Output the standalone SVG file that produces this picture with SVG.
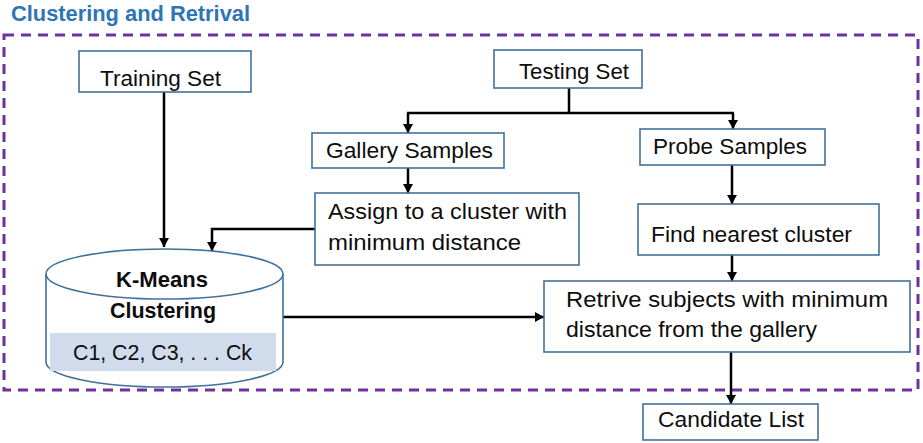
<svg xmlns="http://www.w3.org/2000/svg" width="923" height="443" viewBox="0 0 923 443">
<style>
.box{fill:#fff;stroke:#41719C;stroke-width:1.6}
.t{font-family:"Liberation Sans",Arial,sans-serif;font-size:22px;fill:#0d0d0d}
.b{font-weight:bold}
.c{fill:none;stroke:#000;stroke-width:2.5}
.a{marker-end:url(#ah)}
</style>
<defs>
<marker id="ah" markerUnits="userSpaceOnUse" markerWidth="9" markerHeight="10" viewBox="0 0 9 10" refX="9" refY="5" orient="auto">
<path d="M0,0 L9,5 L0,10 z" fill="#000"/>
</marker>
</defs>
<rect width="923" height="443" fill="#fff"/>
<text x="11" y="21" class="t b" fill="#2E75B6" style="fill:#2E75B6" textLength="239" lengthAdjust="spacingAndGlyphs">Clustering and Retrival</text>
<rect id="border" x="4" y="35" width="914" height="355" fill="none" stroke="#7030A0" stroke-width="3" stroke-dasharray="10,7"/>

<g id="connectors">
<path class="c a" d="M164,92 V247"/>
<path class="c" d="M569,88 V113 M407,113 H734"/>
<path class="c a" d="M408,113 V133"/>
<path class="c a" d="M733,113 V129"/>
<path class="c a" d="M408,168 V193"/>
<path class="c a" d="M315,229 H212 V251"/>
<path class="c a" d="M732,165 V204"/>
<path class="c a" d="M732,255 V281"/>
<path class="c a" d="M283,317 H544"/>
<path class="c a" d="M731,352 V404"/>
</g>

<g id="training">
<rect class="box" x="79" y="51" width="172" height="41"/>
<text class="t" x="100" y="86" textLength="121" lengthAdjust="spacingAndGlyphs">Training Set</text>
</g>
<g id="testing">
<rect class="box" x="494" y="50" width="148" height="38"/>
<text class="t" x="519" y="79" textLength="110" lengthAdjust="spacingAndGlyphs">Testing Set</text>
</g>
<g id="gallery">
<rect class="box" x="312" y="133" width="192" height="35"/>
<text class="t" x="326" y="158" textLength="167" lengthAdjust="spacingAndGlyphs">Gallery Samples</text>
</g>
<g id="probe">
<rect class="box" x="640" y="129" width="185" height="36"/>
<text class="t" x="653" y="154" textLength="154" lengthAdjust="spacingAndGlyphs">Probe Samples</text>
</g>
<g id="assign">
<rect class="box" x="315" y="193" width="264" height="72"/>
<text class="t" x="328" y="219" textLength="239" lengthAdjust="spacingAndGlyphs">Assign to a cluster with</text>
<text class="t" x="328" y="250" textLength="193" lengthAdjust="spacingAndGlyphs">minimum distance</text>
</g>
<g id="find">
<rect class="box" x="638" y="204" width="241" height="51"/>
<text class="t" x="651" y="242" textLength="201" lengthAdjust="spacingAndGlyphs">Find nearest cluster</text>
</g>
<g id="retrive">
<rect class="box" x="544" y="281" width="366" height="71"/>
<text class="t" x="566" y="307" textLength="322" lengthAdjust="spacingAndGlyphs">Retrive subjects with minimum</text>
<text class="t" x="566" y="337" textLength="251" lengthAdjust="spacingAndGlyphs">distance from the gallery</text>
</g>
<g id="candidate">
<rect class="box" x="643" y="404" width="175" height="36"/>
<text class="t" x="658" y="427" textLength="146" lengthAdjust="spacingAndGlyphs">Candidate List</text>
</g>
<g id="kmeans">
<path class="box" d="M46,274 V362 A118.5,25 0 0 0 283,362 V274"/>
<ellipse class="box" cx="164.5" cy="274" rx="118.5" ry="25"/>
<rect x="50" y="333" width="226" height="38" fill="#D0DCEC"/>
<text class="t b" x="116" y="287" textLength="92" lengthAdjust="spacingAndGlyphs">K-Means</text>
<text class="t b" x="110" y="318" textLength="106" lengthAdjust="spacingAndGlyphs">Clustering</text>
<text class="t" x="73" y="360" textLength="179" lengthAdjust="spacingAndGlyphs">C1, C2, C3, . . . Ck</text>
</g>
</svg>
